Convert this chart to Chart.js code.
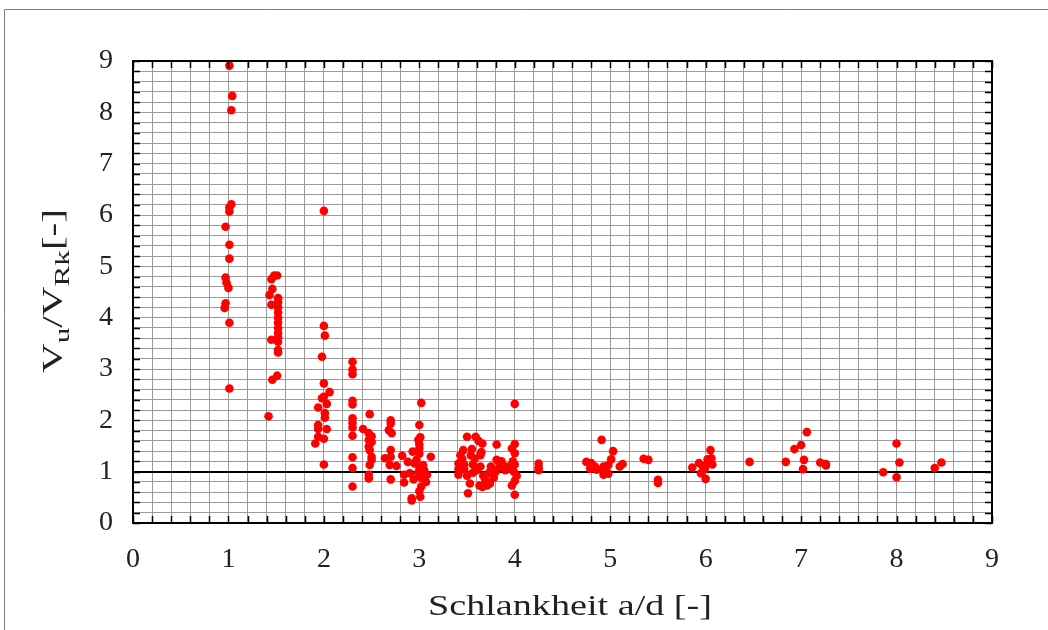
<!DOCTYPE html>
<html>
<head>
<meta charset="utf-8">
<script src="https://cdn.jsdelivr.net/npm/chart.js@4"></script>
<style>
html,body{margin:0;padding:0;background:#fff;}
#wrap{position:relative;width:1048px;height:630px;}
</style>
</head>
<body>
<div id="wrap"><canvas id="c" width="1048" height="630"></canvas></div>
<script>
// a/d (Schlankheit) values
const adValues = [
  1.01,1.04,1.03,1.03,1.01,1.01,0.97,1.01,1.01,0.97,0.98,1.00,0.97,0.96,1.01,1.01,
  1.48,1.51,1.45,1.46,1.43,1.45,1.52,1.52,1.52,1.52,1.52,1.52,1.52,1.52,1.52,1.45,1.52,1.52,1.52,1.51,1.46,1.42,
  2.00,2.00,2.01,1.98,2.00,2.06,2.00,1.98,2.03,1.94,2.01,2.01,1.94,1.94,2.03,1.94,2.00,1.91,2.00,
  2.30,2.30,2.30,2.30,2.30,2.30,2.30,2.30,2.30,2.30,2.30,2.30,
  2.48,2.41,2.47,2.50,2.47,2.50,2.47,2.48,2.50,2.50,2.48,2.47,2.47,
  2.70,2.70,2.68,2.71,2.64,2.70,2.70,2.69,2.76,2.70,
  2.82,2.88,2.84,2.84,2.90,2.93,2.97,3.02,3.00,3.01,2.99,3.00,3.00,3.00,2.95,3.04,2.99,3.05,3.08,3.07,3.02,3.00,2.92,2.92,3.01,3.12,2.94,3.00,3.02,
  3.50,3.59,3.66,3.81,4.00,3.46,3.55,3.65,3.97,4.00,3.43,3.54,3.64,3.81,3.86,3.98,4.00,3.41,3.47,3.56,3.64,3.75,3.84,3.94,
  3.41,3.50,3.56,3.67,3.73,3.80,3.90,3.99,3.53,3.63,3.66,3.71,3.74,3.97,3.51,4.00,4.00,4.00,3.41,3.45,3.58,3.60,3.69,3.78,3.88,4.02,3.62,3.47,
  4.25,4.25,4.25,
  4.91,5.03,4.75,4.80,4.84,4.79,4.86,4.93,4.98,5.01,4.94,4.96,4.93,4.98,5.10,5.13,5.35,5.40,5.50,5.50,
  5.86,5.93,5.97,5.99,5.95,6.00,6.05,6.06,6.02,6.07,6.00,6.46,
  6.84,6.93,7.00,7.06,7.03,7.02,7.20,7.26,7.26,7.86,8.00,8.03,8.00,8.40,8.47
];
// V_u / V_Rk values
const ratioValues = [
  8.91,8.32,8.04,6.21,6.15,6.07,5.77,5.42,5.15,4.78,4.68,4.58,4.28,4.19,3.90,2.62,
  4.82,4.82,4.75,4.56,4.44,4.25,4.38,4.30,4.20,4.10,4.00,3.90,3.80,3.70,3.62,3.57,3.53,3.37,3.32,2.87,2.79,2.08,
  6.08,3.84,3.65,3.24,2.72,2.55,2.46,2.43,2.32,2.25,2.14,2.05,1.91,1.83,1.83,1.68,1.64,1.55,1.14,
  3.14,2.99,2.90,2.38,2.31,2.04,1.95,1.86,1.70,1.28,1.07,0.71,
  2.12,1.83,1.75,1.69,1.62,1.58,1.49,1.42,1.29,1.23,1.13,0.94,0.87,
  2.00,1.94,1.81,1.75,1.26,1.42,1.29,1.13,1.11,0.85,
  1.31,1.19,0.94,0.79,0.97,1.39,1.23,2.34,1.91,1.67,1.62,1.53,1.45,1.35,1.16,1.13,0.97,1.03,0.94,0.80,0.71,0.62,0.48,0.44,0.51,1.29,0.85,1.05,0.88,
  1.68,1.68,1.55,1.53,1.54,1.42,1.44,1.38,1.45,1.36,1.32,1.32,1.32,1.23,1.20,1.20,1.14,1.16,1.14,1.14,1.10,1.10,1.09,1.10,
  0.94,0.92,0.98,0.92,0.98,1.00,1.03,1.00,0.77,0.73,0.70,0.73,0.77,0.73,0.58,0.55,0.82,2.32,1.05,1.25,1.25,1.03,0.85,0.88,1.12,0.92,1.60,1.05,
  1.16,1.08,1.03,
  1.62,1.40,1.19,1.17,1.10,1.06,1.04,1.10,1.13,1.24,1.05,0.99,0.94,0.96,1.10,1.15,1.25,1.23,0.84,0.78,
  1.08,1.17,1.10,1.05,0.97,0.86,1.42,1.26,1.24,1.14,1.12,1.19,
  1.19,1.44,1.52,1.77,1.23,1.05,1.18,1.15,1.12,0.99,1.55,1.18,0.89,1.07,1.18
];
const xTickLabels = ['0','1','2','3','4','5','6','7','8','9'];
const yTickLabels = ['0','1','2','3','4','5','6','7','8','9'];
const xTitle = 'Schlankheit a/d [-]';
const yTitleParts = [['V',0],['u',1],['/V',0],['Rk',1],['[-]',0]];

const points = adValues.map((x,i)=>({x:x, y:ratioValues[i]}));
const FONT = '"Liberation Serif", "DejaVu Serif", serif';

function isInt(v){ return Math.abs(v - Math.round(v)) < 1e-6; }

const deco = {
  id:'deco',
  afterDraw(chart){
    const ctx = chart.ctx, a = chart.chartArea;
    const xs = chart.scales.x, ys = chart.scales.y;
    ctx.save();
    // outer frame
    ctx.strokeStyle = '#808080'; ctx.lineWidth = 1;
    ctx.beginPath(); ctx.moveTo(4.5,630); ctx.lineTo(4.5,9.5); ctx.lineTo(1048,9.5); ctx.stroke();
    // inward ticks
    ctx.strokeStyle = '#000'; ctx.lineWidth = 1.5;
    ctx.beginPath();
    xs.ticks.forEach(t=>{
      const px = Math.round(xs.getPixelForValue(t.value))+0.5;
      ctx.moveTo(px,a.bottom); ctx.lineTo(px,a.bottom-7);
      ctx.moveTo(px,a.top); ctx.lineTo(px,a.top+7);
    });
    ys.ticks.forEach(t=>{
      const py = Math.round(ys.getPixelForValue(t.value))+0.5;
      ctx.moveTo(a.left,py); ctx.lineTo(a.left+7,py);
      ctx.moveTo(a.right,py); ctx.lineTo(a.right-7,py);
    });
    ctx.stroke();
    // frame
    ctx.lineWidth = 2;
    ctx.strokeRect(a.left, a.top, a.right-a.left, a.bottom-a.top);

    ctx.fillStyle = '#222';
    ctx.textBaseline = 'alphabetic'; ctx.textAlign = 'left';
    // x title, stretched to the reference width
    ctx.save();
    ctx.font = '29px '+FONT;
    const wx = ctx.measureText(xTitle).width;
    ctx.translate(570, 615);
    ctx.scale(284/wx, 1);
    ctx.fillText(xTitle, -wx/2, 0);
    ctx.restore();

    // y title with subscripts
    ctx.save();
    ctx.translate(62, 291);
    ctx.rotate(-Math.PI/2);
    const big = '29px '+FONT, small = '22px '+FONT;
    let total = 0;
    yTitleParts.forEach(p=>{ ctx.font = p[1]?small:big; total += ctx.measureText(p[0]).width; });
    ctx.scale(164/total, 1);
    let cx = -total/2;
    yTitleParts.forEach(p=>{
      ctx.font = p[1]?small:big;
      ctx.fillText(p[0], cx, p[1]? 7 : 0);
      cx += ctx.measureText(p[0]).width;
    });
    ctx.restore();
    ctx.restore();
  }
};

new Chart(document.getElementById('c'), {
  type:'scatter',
  data:{datasets:[{
    data: points,
    backgroundColor:'#ff0000',
    borderWidth:0,
    pointRadius:4.3,
    pointHoverRadius:4.3
  }]},
  plugins:[deco],
  options:{
    responsive:false,
    animation:false,
    layout:{padding:{top:61,right:56,left:0,bottom:0}},
    plugins:{legend:{display:false},tooltip:{enabled:false}},
    scales:{
      x:{
        type:'linear', min:0, max:9,
        afterFit(s){ s.height = 107; },
        border:{display:false},
        grid:{color:'#9a9a9a', lineWidth:1, drawTicks:false},
        ticks:{stepSize:0.2, autoSkip:false, maxRotation:0, padding:20, color:'#222',
          font:{family:FONT, size:28},
          callback:(v)=> isInt(v) ? xTickLabels[Math.round(v)] : ''},
        title:{display:false, text:xTitle}
      },
      y:{
        type:'linear', min:0, max:9,
        afterFit(s){ s.width = 133; },
        border:{display:false},
        grid:{
          color:(c)=> (c.tick && Math.abs(c.tick.value-1)<1e-6) ? '#000' : '#9a9a9a',
          lineWidth:(c)=> (c.tick && Math.abs(c.tick.value-1)<1e-6) ? 2 : 1,
          drawTicks:false},
        ticks:{stepSize:0.2, autoSkip:false, padding:20, color:'#222',
          font:{family:FONT, size:28},
          callback:(v)=> isInt(v) ? yTickLabels[Math.round(v)] : ''}
      }
    }
  }
});
</script>
</body>
</html>
